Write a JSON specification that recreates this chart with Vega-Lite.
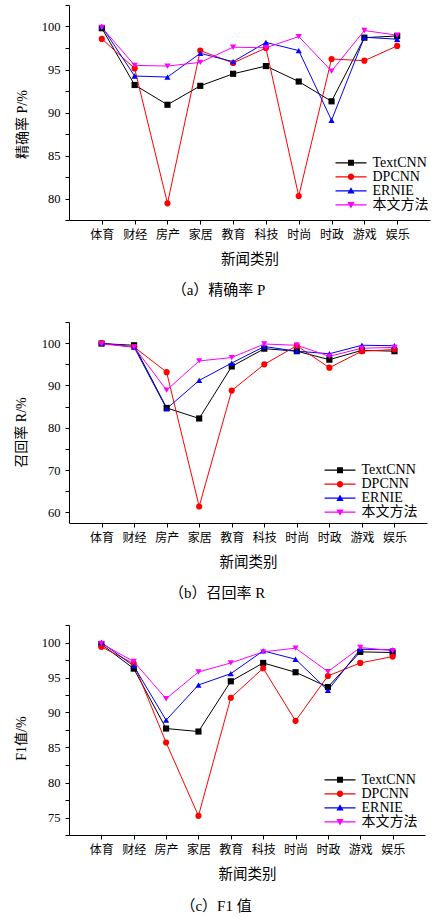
{
  "$schema": "https://vega.github.io/schema/vega-lite/v6.json",
  "padding": {"left": 14, "top": -1, "right": 5, "bottom": 5},
  "bounds": "flush",
  "spacing": 102,
  "config": {
    "view": {"stroke": null},
    "font": "Liberation Serif, Noto Sans CJK SC",
    "axis": {
      "domainColor": "#000", "tickColor": "#000", "labelColor": "#000", "titleColor": "#000",
      "labelFont": "Liberation Serif, Noto Sans CJK SC", "titleFont": "Liberation Serif, Noto Sans CJK SC",
      "titleFontWeight": "normal", "grid": false, "tickSize": 4, "domainWidth": 1, "tickWidth": 1
    },
    "legend": {
      "orient": "none", "labelFont": "Liberation Serif, Noto Sans CJK SC", "labelFontSize": 14,
      "labelColor": "#000", "rowPadding": -0.7, "labelOffset": 14.5, "padding": 0, "symbolStrokeWidth": 0
    },
    "title": {"font": "Liberation Serif, Noto Sans CJK SC", "fontWeight": "normal", "fontSize": 15, "color": "#000"}
  },
  "datasets": {
    "d": [
      {"cat": "体育", "model": "TextCNN", "P": 99.8, "R": 99.9, "F1": 99.76},
      {"cat": "财经", "model": "TextCNN", "P": 93.2, "R": 99.5, "F1": 96.27},
      {"cat": "房产", "model": "TextCNN", "P": 90.9, "R": 84.7, "F1": 87.71},
      {"cat": "家居", "model": "TextCNN", "P": 93.1, "R": 82.2, "F1": 87.28},
      {"cat": "教育", "model": "TextCNN", "P": 94.5, "R": 94.5, "F1": 94.46},
      {"cat": "科技", "model": "TextCNN", "P": 95.4, "R": 98.7, "F1": 97.08},
      {"cat": "时尚", "model": "TextCNN", "P": 93.6, "R": 98.1, "F1": 95.75},
      {"cat": "时政", "model": "TextCNN", "P": 91.3, "R": 96.1, "F1": 93.64},
      {"cat": "游戏", "model": "TextCNN", "P": 98.7, "R": 98.3, "F1": 98.66},
      {"cat": "娱乐", "model": "TextCNN", "P": 98.9, "R": 98.1, "F1": 98.57},
      {"cat": "体育", "model": "DPCNN", "P": 98.56, "R": 100, "F1": 99.38},
      {"cat": "财经", "model": "DPCNN", "P": 95.13, "R": 99.1, "F1": 96.99},
      {"cat": "房产", "model": "DPCNN", "P": 79.44, "R": 93.15, "F1": 85.71},
      {"cat": "家居", "model": "DPCNN", "P": 97.2, "R": 61.4, "F1": 75.24},
      {"cat": "教育", "model": "DPCNN", "P": 95.76, "R": 88.8, "F1": 92.11},
      {"cat": "科技", "model": "DPCNN", "P": 97.5, "R": 95.0, "F1": 96.32},
      {"cat": "时尚", "model": "DPCNN", "P": 80.29, "R": 99.4, "F1": 88.81},
      {"cat": "时政", "model": "DPCNN", "P": 96.22, "R": 94.2, "F1": 95.22},
      {"cat": "游戏", "model": "DPCNN", "P": 96.03, "R": 98.1, "F1": 97.08},
      {"cat": "娱乐", "model": "DPCNN", "P": 97.74, "R": 98.5, "F1": 97.99},
      {"cat": "体育", "model": "ERNIE", "P": 100.0, "R": 100, "F1": 100},
      {"cat": "财经", "model": "ERNIE", "P": 94.24, "R": 99.05, "F1": 96.65},
      {"cat": "房产", "model": "ERNIE", "P": 94.12, "R": 84.5, "F1": 88.9},
      {"cat": "家居", "model": "ERNIE", "P": 96.88, "R": 91.2, "F1": 93.93},
      {"cat": "教育", "model": "ERNIE", "P": 95.91, "R": 95.3, "F1": 95.55},
      {"cat": "科技", "model": "ERNIE", "P": 98.15, "R": 99.2, "F1": 98.8},
      {"cat": "时尚", "model": "ERNIE", "P": 97.2, "R": 98.1, "F1": 97.61},
      {"cat": "时政", "model": "ERNIE", "P": 89.1, "R": 97.5, "F1": 93.16},
      {"cat": "游戏", "model": "ERNIE", "P": 98.75, "R": 99.5, "F1": 99.04},
      {"cat": "娱乐", "model": "ERNIE", "P": 98.52, "R": 99.4, "F1": 98.95},
      {"cat": "体育", "model": "本文方法", "P": 99.9, "R": 99.8, "F1": 99.86},
      {"cat": "财经", "model": "本文方法", "P": 95.48, "R": 99.1, "F1": 97.28},
      {"cat": "房产", "model": "本文方法", "P": 95.4, "R": 88.9, "F1": 91.97},
      {"cat": "家居", "model": "本文方法", "P": 95.83, "R": 95.8, "F1": 95.79},
      {"cat": "教育", "model": "本文方法", "P": 97.59, "R": 96.6, "F1": 97.08},
      {"cat": "科技", "model": "本文方法", "P": 97.53, "R": 99.8, "F1": 98.66},
      {"cat": "时尚", "model": "本文方法", "P": 98.83, "R": 99.5, "F1": 99.19},
      {"cat": "时政", "model": "本文方法", "P": 94.82, "R": 96.9, "F1": 95.84},
      {"cat": "游戏", "model": "本文方法", "P": 99.53, "R": 98.8, "F1": 99.28},
      {"cat": "娱乐", "model": "本文方法", "P": 98.99, "R": 99.0, "F1": 98.85}
    ]
  },
  "vconcat": [
    {
      "width": 361, "height": 215,
      "title": {"text": "（a）精确率 P", "orient": "bottom", "offset": 17, "dx": -31},
      "data": {"name": "d"},
      "encoding": {
        "x": {"field": "cat", "type": "nominal", "sort": ["体育", "财经", "房产", "家居", "教育", "科技", "时尚", "时政", "游戏", "娱乐"],
              "scale": {"type": "point", "padding": 1},
              "axis": {"title": "新闻类别", "labelAngle": 0, "labelFontSize": 12, "labelPadding": 5, "titleFontSize": 14.5, "titlePadding": 12}},
        "y": {"field": "P", "type": "quantitative", "scale": {"domain": [77.5, 102.5], "nice": false, "zero": false},
              "axis": {"title": "精确率 P/%", "values": [77.5, 80, 82.5, 85, 87.5, 90, 92.5, 95, 97.5, 100, 102.5],
                       "labelExpr": "datum.value % 5 == 0 && datum.value <= 100 ? datum.label : ''",
                       "labelFontSize": 12.5, "labelPadding": 5, "titleFontSize": 14, "titleX": -47, "titleY": 119, "titleBaseline": "middle", "labelOverlap": false}}
      },
      "layer": [
        {"mark": {"type": "line", "strokeWidth": 1},
         "encoding": {"color": {"field": "model", "type": "nominal", "scale": {"domain": ["TextCNN", "DPCNN", "ERNIE", "本文方法"], "range": ["#000000", "#ff0000", "#0000ff", "#ff00ff"]}, "legend": null}}},
        {"mark": {"type": "point", "filled": true, "size": 38, "opacity": 1},
         "encoding": {
           "color": {"field": "model", "type": "nominal", "scale": {"domain": ["TextCNN", "DPCNN", "ERNIE", "本文方法"], "range": ["#000000", "#ff0000", "#0000ff", "#ff00ff"]}, "legend": null},
           "shape": {"field": "model", "type": "nominal", "scale": {"domain": ["TextCNN", "DPCNN", "ERNIE", "本文方法"], "range": ["square", "circle", "triangle-up", "triangle-down"]}, "legend": null}}},
        {"transform": [{"filter": "false"}],
         "mark": {"type": "point", "filled": true, "size": 100, "opacity": 1},
         "encoding": {
           "color": {"field": "model", "type": "nominal", "scale": {"domain": ["TextCNN", "DPCNN", "ERNIE", "本文方法"], "range": ["#000000", "#ff0000", "#0000ff", "#ff00ff"]},
                     "legend": {"title": null, "legendX": 275, "legendY": 150.8, "symbolSize": 100}},
           "shape": {"field": "model", "type": "nominal", "scale": {"domain": ["TextCNN", "DPCNN", "ERNIE", "本文方法"],
                     "range": ["M-3.1,-0.12H3.1V0.12H-3.1Z M-0.6,-0.6H0.6V0.6H-0.6Z", "M-3.1,-0.12H3.1V0.12H-3.1Z M-0.64,0A0.64,0.64 0 1,1 0.64,0A0.64,0.64 0 1,1 -0.64,0Z", "M-3.1,-0.12H3.1V0.12H-3.1Z M0,-0.72L0.72,0.56H-0.72Z", "M-3.1,-0.12H3.1V0.12H-3.1Z M-0.72,-0.56H0.72L0,0.72Z"]},
                     "legend": {"title": null, "legendX": 275, "legendY": 150.8, "symbolSize": 100}}}}
      ],
      "resolve": {"scale": {"shape": "independent", "color": "independent"}}
    },
    {
      "width": 358, "height": 201,
      "title": {"text": "（b）召回率 R", "orient": "bottom", "offset": 17, "dx": -31},
      "data": {"name": "d"},
      "encoding": {
        "x": {"field": "cat", "type": "nominal", "sort": ["体育", "财经", "房产", "家居", "教育", "科技", "时尚", "时政", "游戏", "娱乐"],
              "scale": {"type": "point", "padding": 1},
              "axis": {"title": "新闻类别", "labelAngle": 0, "labelFontSize": 12, "labelPadding": 5, "titleFontSize": 14.5, "titlePadding": 12}},
        "y": {"field": "R", "type": "quantitative", "scale": {"domain": [57.5, 105], "nice": false, "zero": false},
              "axis": {"title": "召回率 R/%", "values": [60, 65, 70, 75, 80, 85, 90, 95, 100, 105],
                       "labelExpr": "datum.value % 10 == 0 && datum.value <= 100 ? datum.label : ''",
                       "labelFontSize": 12.5, "labelPadding": 5, "titleFontSize": 14, "titleX": -48, "titleY": 110, "titleBaseline": "middle", "labelOverlap": false}}
      },
      "layer": [
        {"mark": {"type": "line", "strokeWidth": 1},
         "encoding": {"color": {"field": "model", "type": "nominal", "scale": {"domain": ["TextCNN", "DPCNN", "ERNIE", "本文方法"], "range": ["#000000", "#ff0000", "#0000ff", "#ff00ff"]}, "legend": null}}},
        {"mark": {"type": "point", "filled": true, "size": 38, "opacity": 1},
         "encoding": {
           "color": {"field": "model", "type": "nominal", "scale": {"domain": ["TextCNN", "DPCNN", "ERNIE", "本文方法"], "range": ["#000000", "#ff0000", "#0000ff", "#ff00ff"]}, "legend": null},
           "shape": {"field": "model", "type": "nominal", "scale": {"domain": ["TextCNN", "DPCNN", "ERNIE", "本文方法"], "range": ["square", "circle", "triangle-up", "triangle-down"]}, "legend": null}}},
        {"transform": [{"filter": "false"}],
         "mark": {"type": "point", "filled": true, "size": 100, "opacity": 1},
         "encoding": {
           "color": {"field": "model", "type": "nominal", "scale": {"domain": ["TextCNN", "DPCNN", "ERNIE", "本文方法"], "range": ["#000000", "#ff0000", "#0000ff", "#ff00ff"]},
                     "legend": {"title": null, "legendX": 264, "legendY": 141.2, "symbolSize": 100}},
           "shape": {"field": "model", "type": "nominal", "scale": {"domain": ["TextCNN", "DPCNN", "ERNIE", "本文方法"],
                     "range": ["M-3.1,-0.12H3.1V0.12H-3.1Z M-0.6,-0.6H0.6V0.6H-0.6Z", "M-3.1,-0.12H3.1V0.12H-3.1Z M-0.64,0A0.64,0.64 0 1,1 0.64,0A0.64,0.64 0 1,1 -0.64,0Z", "M-3.1,-0.12H3.1V0.12H-3.1Z M0,-0.72L0.72,0.56H-0.72Z", "M-3.1,-0.12H3.1V0.12H-3.1Z M-0.72,-0.56H0.72L0,0.72Z"]},
                     "legend": {"title": null, "legendX": 264, "legendY": 141.2, "symbolSize": 100}}}}
      ],
      "resolve": {"scale": {"shape": "independent", "color": "independent"}}
    },
    {
      "width": 356, "height": 210,
      "title": {"text": "（c）F1 值", "orient": "bottom", "offset": 18, "dx": -31},
      "data": {"name": "d"},
      "encoding": {
        "x": {"field": "cat", "type": "nominal", "sort": ["体育", "财经", "房产", "家居", "教育", "科技", "时尚", "时政", "游戏", "娱乐"],
              "scale": {"type": "point", "padding": 1},
              "axis": {"title": "新闻类别", "labelAngle": 0, "labelFontSize": 12, "labelPadding": 5, "titleFontSize": 14.5, "titlePadding": 12}},
        "y": {"field": "F1", "type": "quantitative", "scale": {"domain": [72.5, 102.5], "nice": false, "zero": false},
              "axis": {"title": "F1值/%", "values": [72.5, 75, 77.5, 80, 82.5, 85, 87.5, 90, 92.5, 95, 97.5, 100, 102.5],
                       "labelExpr": "datum.value % 5 == 0 && datum.value <= 100 ? datum.label : ''",
                       "labelFontSize": 12.5, "labelPadding": 5, "titleFontSize": 14, "titleX": -48, "titleY": 113, "titleBaseline": "middle", "labelOverlap": false}}
      },
      "layer": [
        {"mark": {"type": "line", "strokeWidth": 1},
         "encoding": {"color": {"field": "model", "type": "nominal", "scale": {"domain": ["TextCNN", "DPCNN", "ERNIE", "本文方法"], "range": ["#000000", "#ff0000", "#0000ff", "#ff00ff"]}, "legend": null}}},
        {"mark": {"type": "point", "filled": true, "size": 38, "opacity": 1},
         "encoding": {
           "color": {"field": "model", "type": "nominal", "scale": {"domain": ["TextCNN", "DPCNN", "ERNIE", "本文方法"], "range": ["#000000", "#ff0000", "#0000ff", "#ff00ff"]}, "legend": null},
           "shape": {"field": "model", "type": "nominal", "scale": {"domain": ["TextCNN", "DPCNN", "ERNIE", "本文方法"], "range": ["square", "circle", "triangle-up", "triangle-down"]}, "legend": null}}},
        {"transform": [{"filter": "false"}],
         "mark": {"type": "point", "filled": true, "size": 100, "opacity": 1},
         "encoding": {
           "color": {"field": "model", "type": "nominal", "scale": {"domain": ["TextCNN", "DPCNN", "ERNIE", "本文方法"], "range": ["#000000", "#ff0000", "#0000ff", "#ff00ff"]},
                     "legend": {"title": null, "legendX": 264, "legendY": 147.8, "symbolSize": 100}},
           "shape": {"field": "model", "type": "nominal", "scale": {"domain": ["TextCNN", "DPCNN", "ERNIE", "本文方法"],
                     "range": ["M-3.1,-0.12H3.1V0.12H-3.1Z M-0.6,-0.6H0.6V0.6H-0.6Z", "M-3.1,-0.12H3.1V0.12H-3.1Z M-0.64,0A0.64,0.64 0 1,1 0.64,0A0.64,0.64 0 1,1 -0.64,0Z", "M-3.1,-0.12H3.1V0.12H-3.1Z M0,-0.72L0.72,0.56H-0.72Z", "M-3.1,-0.12H3.1V0.12H-3.1Z M-0.72,-0.56H0.72L0,0.72Z"]},
                     "legend": {"title": null, "legendX": 264, "legendY": 147.8, "symbolSize": 100}}}}
      ],
      "resolve": {"scale": {"shape": "independent", "color": "independent"}}
    }
  ]
}
